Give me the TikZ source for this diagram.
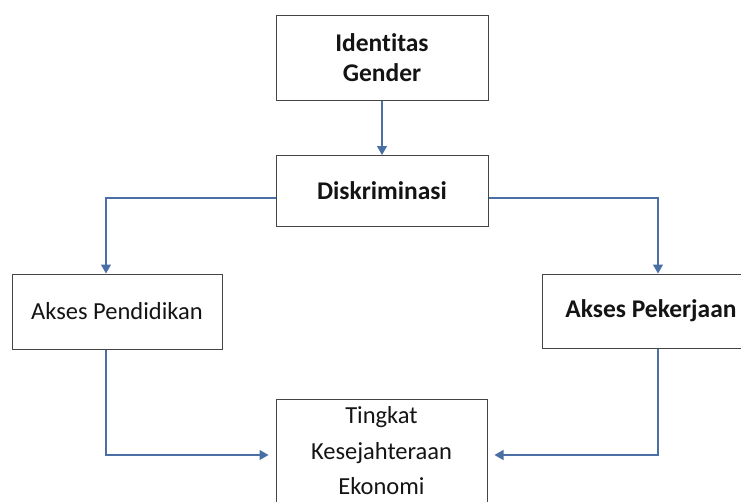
\documentclass[tikz,border=0pt]{standalone}
\usepackage{fontspec}
\setmainfont{Carlito}[Ligatures=NoCommon]
\usetikzlibrary{arrows.meta}
\definecolor{boxgray}{HTML}{454545}
\definecolor{connblue}{HTML}{4A6FA5}
\begin{document}
\begin{tikzpicture}[x=1pt,y=-1pt,
  box/.style={draw=boxgray, line width=1pt, inner sep=0pt, align=center, text=black!92},
  bfont/.style={font=\bfseries\fontsize{25.5}{30}\selectfont},
  rfont/.style={font=\fontsize{24.5}{35.5}\selectfont},
  conn/.style={draw=connblue, line width=1.2pt, -{Triangle[length=9pt,width=10pt]}},
]
\useasboundingbox (0,0) rectangle (741,501);
\clip (0,0) rectangle (741,501);
\node[box, bfont, minimum width=212pt, minimum height=85pt] (ig) at (382,57.5) {Identitas\\Gender};
\node[box, bfont, minimum width=212pt, minimum height=71pt] (dk) at (382,191) {Diskriminasi};
\node[box, rfont, minimum width=210pt, minimum height=75pt] (ap) at (117,311.5) {Akses Pendidikan};
\node[box, bfont, minimum width=218pt, minimum height=74pt] (ak) at (651,311) {Akses Pekerjaan};
\node[box, rfont, minimum width=211pt, minimum height=104pt] (tk) at (381.5,451) {Tingkat\\Kesejahteraan\\Ekonomi};
\draw[conn] (ig) -- (dk);
\draw[conn] ([yshift=-7pt]dk.west) -| ([xshift=-11pt]ap.north);
\draw[conn] ([yshift=-7pt]dk.east) -| ([xshift=7pt]ak.north);
\draw[conn] ([xshift=-11pt]ap.south) |- ([xshift=-7pt,yshift=-4pt]tk.west);
\draw[conn] ([xshift=7pt]ak.south) |- ([xshift=7pt,yshift=-4pt]tk.east);
\end{tikzpicture}
\end{document}
